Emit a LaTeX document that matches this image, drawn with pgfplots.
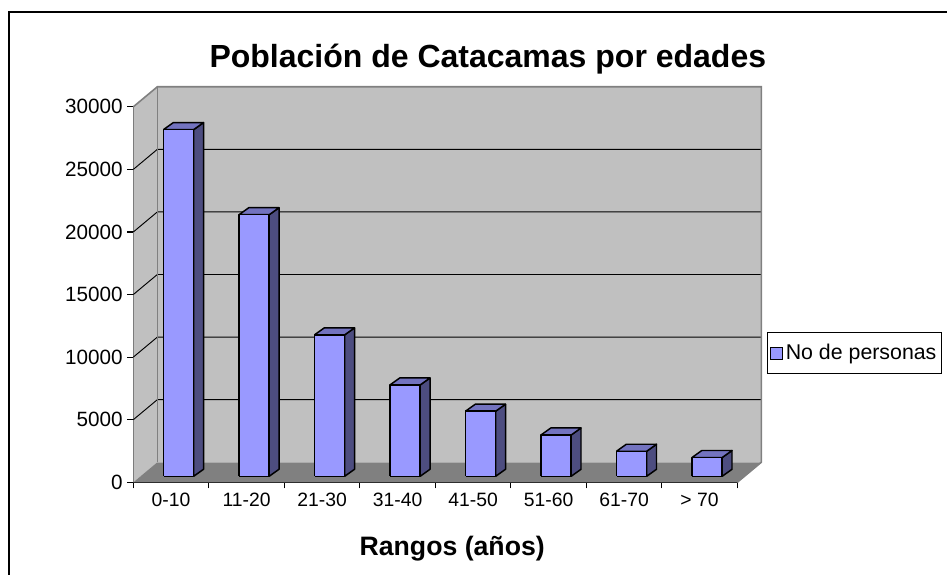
\documentclass[border=0pt]{standalone}
\usepackage{fontspec}
\setmainfont{Liberation Sans}
\usepackage{pgfplots}
\usepackage{pgfplotstable}
\pgfplotsset{compat=1.18}
\definecolor{barfront}{RGB}{153,153,255}
\definecolor{barside}{RGB}{77,77,128}
\definecolor{bartop}{RGB}{115,115,191}
\definecolor{wall}{RGB}{192,192,192}
\definecolor{floorc}{RGB}{128,128,128}
\newcommand\yf{\fontsize{15.5}{18}\selectfont}

\pgfplotstableread{
x v
0 27700
1 20900
2 11300
3 7300
4 5200
5 3300
6 2000
7 1500
}\datatable

\begin{document}
\begin{tikzpicture}
\useasboundingbox (0,0) rectangle (710.25pt,431.25pt);
\draw[black, line width=1pt] (6.75pt,-5pt) -- (6.75pt,422.25pt) -- (720pt,422.25pt);
\begin{axis}[
  at={(99.98pt,69.53pt)}, anchor=south west,
  scale only axis, width=453pt, height=281.6pt,
  xmin=-0.5, xmax=7.5, ymin=0, ymax=30000,
  clip=false,
  axis x line*=bottom, axis y line*=left,
  axis line style={black, line width=0.8pt, -},
  xtick={-0.5,0.5,...,7.5},
  x tick label as interval,
  xticklabels={0-10,11-20,21-30,31-40,41-50,51-60,61-70,> 70},
  ytick={0,5000,10000,15000,20000,25000,30000},
  scaled y ticks=false,
  yticklabels={{\yf 0},{\yf 5000},{\yf 10000},{\yf 15000},{\yf 20000},{\yf 25000},{\yf 30000}},
  y tick label style={font=\yf},
  xticklabel style={font=\fontsize{14.5}{18}\selectfont},
  tick align=outside, major tick length=4.5pt,
  tick style={black, line width=0.8pt},
  title={Población de Catacamas por edades},
  title style={at={(0.587,1.105)}, anchor=center, font=\bfseries\fontsize{24}{28}\selectfont},
  xlabel={Rangos (años)},
  xlabel style={at={(0.528,-0.176)}, anchor=center, font=\bfseries\fontsize{20}{24}\selectfont},
  legend style={at={(1.049,0.344)}, anchor=west, draw=black, line width=0.8pt, font=\fontsize{16}{19}\selectfont, inner xsep=2pt, inner ysep=7pt},
]
% walls and floor
\fill[wall] (axis cs:-0.182,1600) rectangle (axis cs:7.818,31600);
\fill[wall] (axis cs:-0.5,0) -- (axis cs:-0.5,30000) -- (axis cs:-0.182,31600) -- (axis cs:-0.182,1600) -- cycle;
\fill[floorc] (axis cs:-0.5,0) -- (axis cs:7.5,0) -- (axis cs:7.818,1600) -- (axis cs:-0.182,1600) -- cycle;
% gridlines
\draw[black, line width=0.7pt] (axis cs:-0.5,5000) -- (axis cs:-0.182,6600) -- (axis cs:7.818,6600);
\draw[black, line width=0.7pt] (axis cs:-0.5,10000) -- (axis cs:-0.182,11600) -- (axis cs:7.818,11600);
\draw[black, line width=0.7pt] (axis cs:-0.5,15000) -- (axis cs:-0.182,16600) -- (axis cs:7.818,16600);
\draw[black, line width=0.7pt] (axis cs:-0.5,20000) -- (axis cs:-0.182,21600) -- (axis cs:7.818,21600);
\draw[black, line width=0.7pt] (axis cs:-0.5,25000) -- (axis cs:-0.182,26600) -- (axis cs:7.818,26600);
% wall edges
\draw[floorc, line width=1.2pt] (axis cs:-0.5,30000) -- (axis cs:-0.182,31600) -- (axis cs:7.818,31600) -- (axis cs:7.818,1600) -- (axis cs:7.5,0);
\draw[floorc, line width=1.2pt] (axis cs:-0.182,1600) -- (axis cs:-0.182,31600);
% bars
\pgfplotsinvokeforeach{0,...,7}{
  \pgfplotstablegetelem{#1}{v}\of\datatable
  \pgfmathsetmacro\xl{#1-0.1}
  \pgfmathsetmacro\xr{#1+0.3}
  \pgfmathsetmacro\xb{#1+0.43}
  \pgfmathsetmacro\xbl{#1+0.03}
  \edef\yb{480}
  \edef\ybb{1040}
  \edef\yt{\the\numexpr\pgfplotsretval+480\relax}
  \edef\ytb{\the\numexpr\pgfplotsretval+1040\relax}
  \edef\tmp{%
    \noexpand\addplot[forget plot, fill=barside, draw=black, line width=1.1pt, line join=round] coordinates {(\xr,\yb) (\xb,\ybb) (\xb,\ytb) (\xr,\yt) (\xr,\yb)};
    \noexpand\addplot[forget plot, fill=bartop, draw=black, line width=1.1pt, line join=round] coordinates {(\xl,\yt) (\xr,\yt) (\xb,\ytb) (\xbl,\ytb) (\xl,\yt)};
    \noexpand\addplot[forget plot, fill=barfront, draw=black, line width=1.1pt, line join=round] coordinates {(\xl,\yb) (\xr,\yb) (\xr,\yt) (\xl,\yt) (\xl,\yb)};
  }
  \tmp
}
\addlegendimage{legend image code/.code={\draw[fill=barfront, draw=black, line width=0.8pt] (1pt,-4.5pt) rectangle (10pt,4.5pt);}}
\addlegendentry{No de personas}
\end{axis}
\end{tikzpicture}
\end{document}
